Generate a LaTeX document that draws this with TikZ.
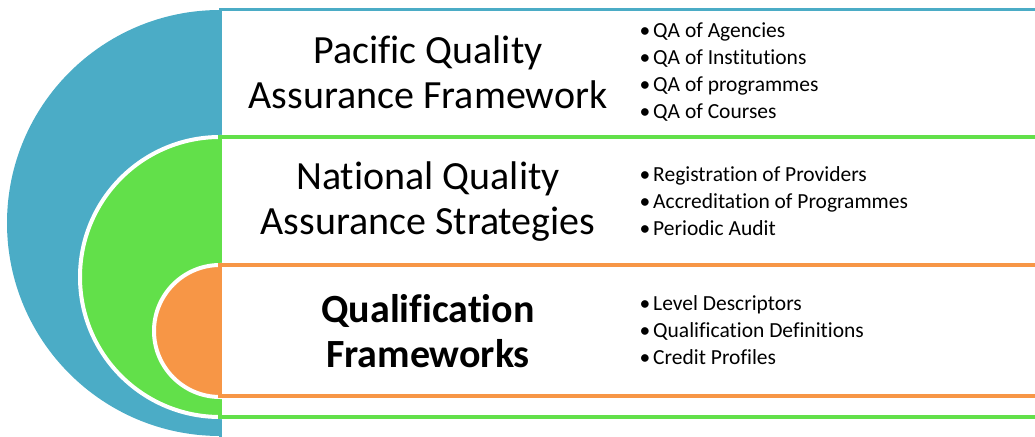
\documentclass[tikz,border=0pt]{standalone}
\usepackage{fontspec}
\setmainfont{Carlito}[Ligatures={NoCommon}]
\usepackage{tikz}
\definecolor{qaBlue}{HTML}{4BACC6}
\definecolor{qaGreen}{HTML}{62E04A}
\definecolor{qaOrange}{HTML}{F79646}
\begin{document}
\begin{tikzpicture}[x=1pt, y=1pt,
		title/.style = {align=center, font=\fontsize{40}{45}\selectfont},
		items/.style = {align=left, anchor=west, font=\fontsize{21.5}{27}\selectfont}]
			\useasboundingbox (0,0) rectangle (1035,436);
			\clip (0,0) rectangle (1035,436);
			\fill[qaBlue] (220,426) arc (90:270:213) -- cycle;
			\draw[qaBlue, line width=3pt, fill=white] (220,-5) rectangle (1045,426.5);
			\draw[white, line width=4pt, fill=qaGreen] (220,299) arc (90:270:140) -- cycle;
			\draw[qaGreen, line width=4pt, fill=white] (220,19) rectangle (1045,298.5);
			\draw[white, line width=4pt, fill=qaOrange] (220,171) arc (90:270:66) -- cycle;
			\draw[qaOrange, line width=4pt, fill=white] (220,39.5) rectangle (1045,170.5);
			\node[title] (pacific) at (428,364) {Pacific Quality\\Assurance Framework};
			\node[title] (national) at (428,234) {National Quality\\Assurance Strategies};
			\node[title, font=\fontsize{40}{45}\selectfont\bfseries] (qualif) at (428,105) {Qualification\\Frameworks};
			\node[items] (pacificList) at (636,363.5) {\textbullet\hspace{3pt}QA of Agencies\\\textbullet\hspace{3pt}QA of Institutions\\\textbullet\hspace{3pt}QA of programmes\\\textbullet\hspace{3pt}QA of Courses};
			\node[items] (nationalList) at (636,235) {\textbullet\hspace{3pt}Registration of Providers\\\textbullet\hspace{3pt}Accreditation of Programmes\\\textbullet\hspace{3pt}Periodic Audit};
			\node[items] (qualifList) at (636,106) {\textbullet\hspace{3pt}Level Descriptors\\\textbullet\hspace{3pt}Qualification Definitions\\\textbullet\hspace{3pt}Credit Profiles};
		\end{tikzpicture}
\end{document}
